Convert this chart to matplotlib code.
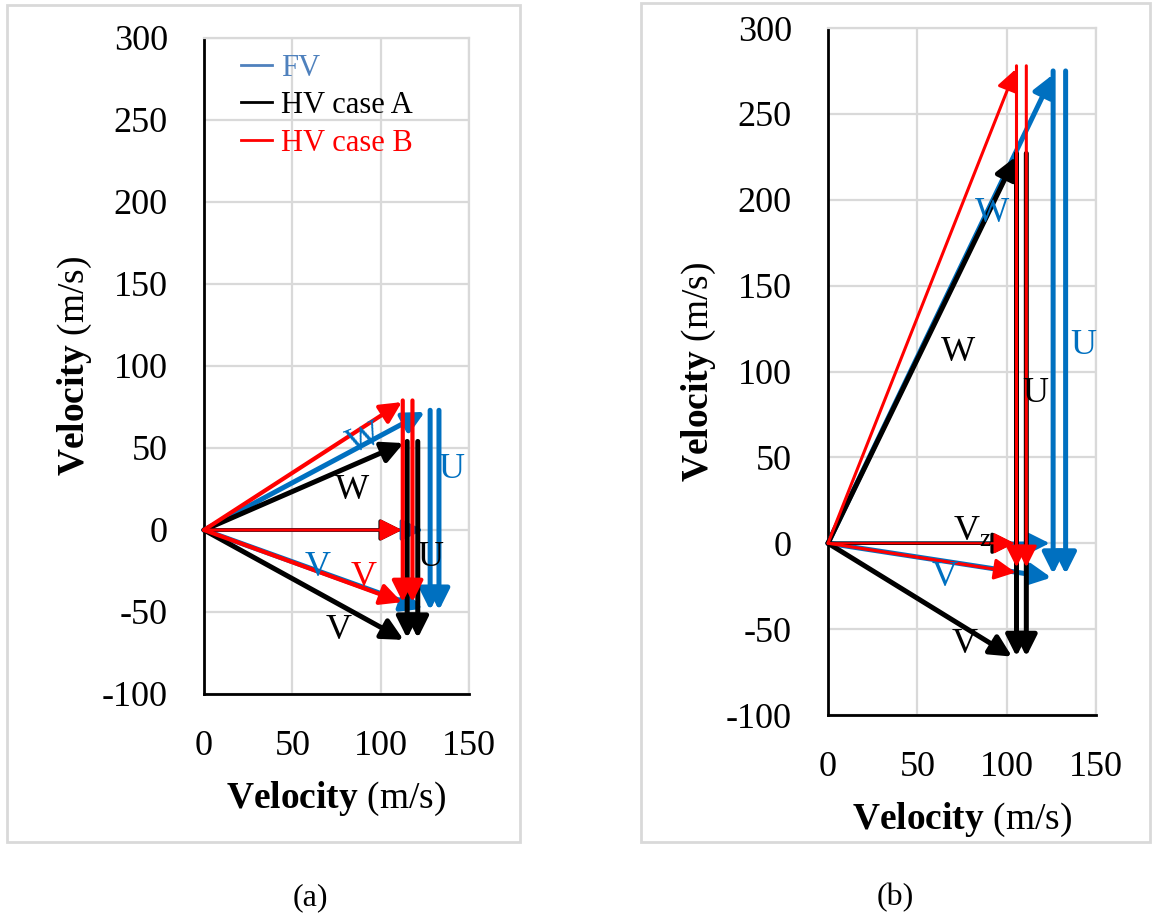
import matplotlib
matplotlib.use('Agg')
import matplotlib.pyplot as plt
from matplotlib.lines import Line2D
from matplotlib.patches import Rectangle

plt.rcParams['font.family'] = ['Liberation Serif', 'DejaVu Serif']
plt.rcParams['mathtext.fontset'] = 'custom'
plt.rcParams['mathtext.rm'] = 'Liberation Serif'
plt.rcParams['mathtext.bf'] = 'Liberation Serif:bold'
plt.rcParams['axes.unicode_minus'] = False

BLUE = '#0070c0'
BLACK = '#000000'
RED = '#ff0000'
GRID = '#d9d9d9'

cases = ['FV', 'HV case A', 'HV case B']
case_colors = [BLUE, BLACK, RED]
legend_colors = ['#4f81bd', BLACK, RED]

# panel (a): axial velocity, W tip, V tip, two U arrows (x positions, top, bottom)
a_vz = [124, 112, 112]
a_w = [(125, 72), (113, 53), (112, 78)]
a_v = [(124, -48), (113, -67), (112, -44)]
a_u_x = [(128, 133), (115, 121), (112.5, 118)]
a_u_top = [73, 54, 79]
a_u_bot = [-49, -66, -44]

# panel (b)
b_vz = [124, 104, 104.5]
b_w = [(126, 273), (105, 225), (105, 276)]
b_v = [(125, -20), (103, -66), (105, -17)]
b_u_x = [(126, 133), (105.5, 111), (105.5, 111)]
b_u_top = [275, 227, 278]
b_u_bot = [-18, -66, -14]

x_ticks = [0, 50, 100, 150]
y_ticks = [-100, -50, 0, 50, 100, 150, 200, 250, 300]

W, H = 1154, 919
fig = plt.figure(figsize=(W / 100, H / 100), dpi=100)

# grey panel frames
for x0, y0, x1, y1 in [(7, 5, 520, 842), (641, 3, 1150, 842)]:
    fig.patches.append(Rectangle((x0 / W, 1 - y1 / H), (x1 - x0) / W, (y1 - y0) / H,
                                 transform=fig.transFigure, fill=False,
                                 edgecolor=GRID, lw=2))


def make_axes(l, r, t, b, xpad):
    ax = fig.add_axes([l / W, 1 - b / H, (r - l) / W, (b - t) / H])
    ax.set_xlim(0, 150)
    ax.set_ylim(-100, 300)
    ax.set_xticks(x_ticks)
    ax.set_yticks(y_ticks)
    ax.grid(True, color=GRID, lw=1.6)
    ax.set_axisbelow(True)
    for s in ['top', 'right']:
        ax.spines[s].set_color(GRID)
        ax.spines[s].set_linewidth(1.6)
    for s in ['left', 'bottom']:
        ax.spines[s].set_color('black')
        ax.spines[s].set_linewidth(2)
    ax.tick_params(length=0, labelsize=26)
    ax.tick_params(axis='y', pad=26)
    ax.tick_params(axis='x', pad=26)
    ax.set_xlabel(r'$\mathbf{Velocity}$ (m/s)', fontsize=27, labelpad=xpad)
    ax.set_ylabel(r'$\mathbf{Velocity}$ (m/s)', fontsize=27, labelpad=6)
    return ax


def arrow(ax, p0, p1, color, lw, ms=32):
    ax.annotate('', xy=p1, xytext=p0,
                arrowprops=dict(arrowstyle='-|>', color=color, lw=lw,
                                mutation_scale=ms, shrinkA=0, shrinkB=0))


def draw_case(ax, vz, w, v, ux, utop, ubot, lws):
    for i in range(3):
        c = case_colors[i]
        lw = lws[i]
        arrow(ax, (0, 0), (vz[i], 0), c, lw * 0.7)
        arrow(ax, (0, 0), w[i], c, lw)
        arrow(ax, (0, 0), v[i], c, lw)
        for x in ux[i]:
            arrow(ax, (x, utop[i]), (x, ubot[i]), c, lw)


# ---- panel (a)
ax1 = make_axes(204, 469, 38, 694, 12)
draw_case(ax1, a_vz, a_w, a_v, a_u_x, a_u_top, a_u_bot, [3.6, 3.6, 3.0])
handles = [Line2D([], [], color=c, lw=2) for c in legend_colors]
leg = ax1.legend(handles, cases, loc='upper left', bbox_to_anchor=(0.095, 0.995),
                 frameon=False, fontsize=22, handlelength=1.0,
                 handletextpad=0.3, labelspacing=0.28, borderaxespad=0)
for t, c in zip(leg.get_texts(), legend_colors):
    t.set_color(c)

lab = dict(fontsize=26, ha='center', va='center')
ax1.text(91, 55, 'W', color=BLUE, rotation=22, **lab)
ax1.text(84, 24, 'W', color=BLACK, **lab)
ax1.text(140, 37, 'U', color=BLUE, **lab)
ax1.text(128, -17, 'U', color=BLACK, **lab)
ax1.text(64.5, -23, 'V', color=BLUE, **lab)
ax1.text(90.5, -29, 'V', color=RED, **lab)
ax1.text(76, -61, 'V', color=BLACK, **lab)

# ---- panel (b)
ax2 = make_axes(828, 1096, 28, 715, 12)
draw_case(ax2, b_vz, b_w, b_v, b_u_x, b_u_top, b_u_bot, [3.6, 3.6, 2.2])
ax2.text(92, 192, 'W', color=BLUE, **lab)
ax2.text(73, 111, 'W', color=BLACK, **lab)
ax2.text(143, 115, 'U', color=BLUE, **lab)
ax2.text(116, 87, 'U', color=BLACK, **lab)
ax2.text(81, 7, r'V$_\mathregular{z}$', color=BLACK, **lab)
ax2.text(65.5, -20, 'V', color=BLUE, **lab)
ax2.text(76.7, -59, 'V', color=BLACK, **lab)

fig.text(310 / W, 1 - 898 / H, '(a)', fontsize=23, ha='center', va='center')
fig.text(895 / W, 1 - 898 / H, '(b)', fontsize=23, ha='center', va='center')

fig.savefig('out.png', dpi=100)
